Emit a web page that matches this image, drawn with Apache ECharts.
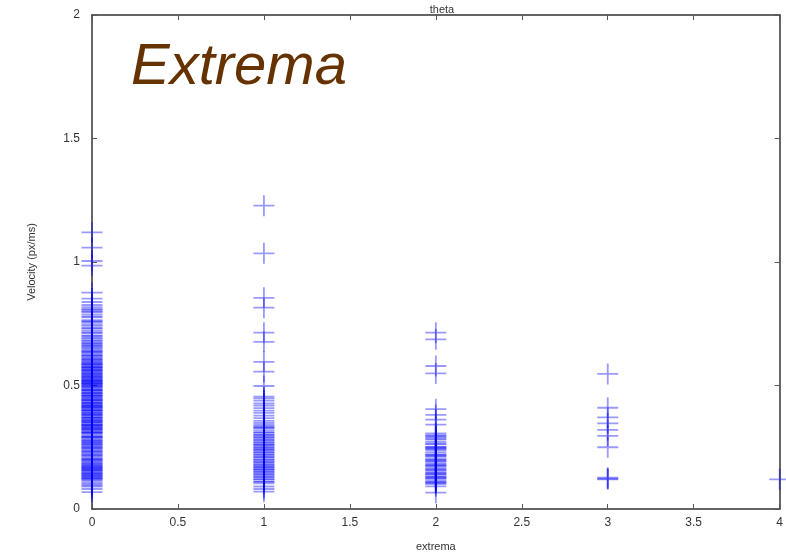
<!DOCTYPE html>
<html>
<head>
<meta charset="utf-8">
<script src="https://cdn.jsdelivr.net/npm/echarts@6/dist/echarts.min.js"></script>
<style>html,body{margin:0;padding:0;background:#fff}#c{width:786px;height:558px}</style>
</head>
<body>
<div id="c"></div>
<script>
// Velocity values per number of extrema
const extremaCategories = [0, 1, 2, 3, 4];
const velocity0 = [1.12, 1.058, 1.004, 0.985, 0.876, 0.852, 0.838, 0.826, 0.817, 0.806, 0.797, 0.788, 0.776, 0.765, 0.757, 0.748, 0.741, 0.733, 0.722, 0.712, 0.703, 0.694, 0.683, 0.672, 0.664, 0.655, 0.646, 0.638, 0.631, 0.622, 0.615, 0.607, 0.601, 0.594, 0.588, 0.583, 0.577, 0.571, 0.566, 0.561, 0.554, 0.549, 0.543, 0.538, 0.533, 0.527, 0.522, 0.517, 0.511, 0.506, 0.502, 0.497, 0.492, 0.486, 0.481, 0.477, 0.472, 0.466, 0.461, 0.456, 0.452, 0.446, 0.441, 0.437, 0.432, 0.427, 0.421, 0.417, 0.412, 0.407, 0.402, 0.397, 0.392, 0.387, 0.382, 0.377, 0.372, 0.366, 0.361, 0.357, 0.352, 0.347, 0.342, 0.337, 0.332, 0.327, 0.322, 0.316, 0.311, 0.306, 0.302, 0.296, 0.291, 0.286, 0.281, 0.276, 0.271, 0.266, 0.261, 0.256, 0.252, 0.246, 0.241, 0.236, 0.231, 0.226, 0.221, 0.216, 0.211, 0.203, 0.194, 0.186, 0.177, 0.168, 0.157, 0.148, 0.137, 0.126, 0.115, 0.102, 0.091, 0.081, 0.068,
  0.52, 0.48, 0.44, 0.41, 0.38, 0.35, 0.33, 0.31, 0.47, 0.43, 0.36, 0.51, 0.54, 0.29, 0.27, 0.50, 0.46, 0.42, 0.39, 0.37, 0.34, 0.32, 0.56, 0.45, 0.40,
  0.598, 0.585, 0.573, 0.559, 0.546, 0.531, 0.519, 0.508, 0.494, 0.483, 0.469, 0.458, 0.443, 0.429, 0.414, 0.399, 0.384, 0.369, 0.354, 0.339, 0.324, 0.309, 0.293, 0.278, 0.263, 0.248, 0.233, 0.218, 0.205, 0.19, 0.173, 0.16, 0.143, 0.13, 0.119, 0.108, 0.096, 0.62, 0.64, 0.66, 0.69, 0.73, 0.78, 0.81,
  0.198, 0.183, 0.171, 0.163, 0.152, 0.141, 0.133, 0.122, 0.59, 0.575, 0.565, 0.55, 0.535, 0.525, 0.515, 0.2, 0.18, 0.165, 0.155, 0.145, 0.135, 0.125, 0.61, 0.605, 0.625, 0.635, 0.65, 0.67, 0.68, 0.7, 0.715, 0.76, 0.8];
const velocity1 = [1.228, 1.035, 0.855, 0.815, 0.714, 0.677, 0.596, 0.556, 0.498, 0.455, 0.448, 0.439, 0.428, 0.419, 0.408, 0.398, 0.389, 0.378, 0.368, 0.357, 0.349, 0.341, 0.334, 0.327, 0.318, 0.309, 0.301, 0.294, 0.287, 0.279, 0.271, 0.264, 0.258, 0.249, 0.242, 0.236, 0.228, 0.221, 0.214, 0.207, 0.199, 0.192, 0.185, 0.178, 0.171, 0.164, 0.158, 0.151, 0.144, 0.137, 0.129, 0.121, 0.112, 0.104, 0.091, 0.081, 0.07, 0.30, 0.28, 0.25, 0.22, 0.20, 0.18, 0.15, 0.13, 0.26, 0.24, 0.19, 0.33, 0.31, 0.29, 0.27, 0.23, 0.21, 0.17, 0.16, 0.14, 0.12, 0.11];
const velocity2 = [0.714, 0.687, 0.579, 0.549, 0.404, 0.381, 0.362, 0.342, 0.306, 0.299, 0.291, 0.281, 0.272, 0.262, 0.251, 0.243, 0.236, 0.228, 0.219, 0.211, 0.202, 0.193, 0.186, 0.178, 0.169, 0.161, 0.154, 0.147, 0.139, 0.131, 0.124, 0.117, 0.109, 0.101, 0.092, 0.066, 0.25, 0.20, 0.16, 0.13, 0.11, 0.22, 0.18, 0.14, 0.295, 0.285, 0.265, 0.245, 0.215, 0.195, 0.175, 0.145, 0.125, 0.105];
const velocity3 = [0.547, 0.41, 0.371, 0.347, 0.32, 0.296, 0.25, 0.127, 0.12, 0.123];
const velocity4 = [0.12];
const xTicks = [0, 0.5, 1, 1.5, 2, 2.5, 3, 3.5, 4];
const yTicks = [0, 0.5, 1, 1.5, 2];

const groups = [velocity0, velocity1, velocity2, velocity3, velocity4];
const points = [];
groups.forEach((g, i) => g.forEach(v => points.push([extremaCategories[i], v])));

const chart = echarts.init(document.getElementById('c'), null, {renderer: 'canvas'});
const axisLine = {show: true, onZero: false, lineStyle: {color: '#333', width: 1.5}};
const tick = {show: true, inside: true, length: 5, lineStyle: {color: '#555'}};
const font = 'Liberation Sans, Arial, sans-serif';
const labelStyle = {color: '#333', fontSize: 12, fontFamily: font};
chart.setOption({
  animation: false,
  backgroundColor: '#fff',
  title: {
    text: 'theta', left: 437, top: -1, textAlign: 'center',
    textStyle: {fontSize: 11, fontWeight: 'normal', color: '#333', fontFamily: font}
  },
  grid: {left: 92, right: 3, top: 15, bottom: 49, containLabel: false},
  xAxis: [{
    type: 'value', min: 0, max: 4, interval: 0.5,
    name: 'extrema', nameLocation: 'middle', nameGap: 32,
    nameTextStyle: {fontSize: 11, color: '#333', fontFamily: font},
    axisLine: axisLine, axisTick: tick,
    axisLabel: Object.assign({margin: 8, formatter: v => String(v)}, labelStyle),
    splitLine: {show: false}
  }, {
    type: 'value', position: 'top', min: 0, max: 4, interval: 0.5,
    axisLine: axisLine, axisTick: tick,
    axisLabel: {show: false}, splitLine: {show: false}
  }],
  yAxis: [{
    type: 'value', min: 0, max: 2, interval: 0.5,
    name: 'Velocity (px/ms)', nameLocation: 'middle', nameGap: 55,
    nameTextStyle: {fontSize: 11, color: '#333', fontFamily: font},
    axisLine: axisLine, axisTick: tick,
    axisLabel: Object.assign({margin: 12, formatter: v => String(v)}, labelStyle),
    splitLine: {show: false}
  }, {
    type: 'value', position: 'right', min: 0, max: 2, interval: 0.5,
    axisLine: axisLine, axisTick: tick,
    axisLabel: {show: false}, splitLine: {show: false}
  }],
  series: [{
    type: 'scatter',
    data: points,
    symbol: 'path://M0,10L20,10M10,0L10,20',
    symbolSize: 21,
    itemStyle: {color: 'rgba(0,0,0,0)', borderColor: 'rgba(0,0,255,0.4)', borderWidth: 1.8, opacity: 1},
    emphasis: {disabled: true},
    clip: true,
    z: 1
  }],
  graphic: [{
    type: 'text', left: 131, top: 39, z: 100,
    style: {text: 'Extrema', fill: '#663300', font: 'italic 58px "Liberation Sans", Arial, sans-serif'}
  }]
});
</script>
</body>
</html>
